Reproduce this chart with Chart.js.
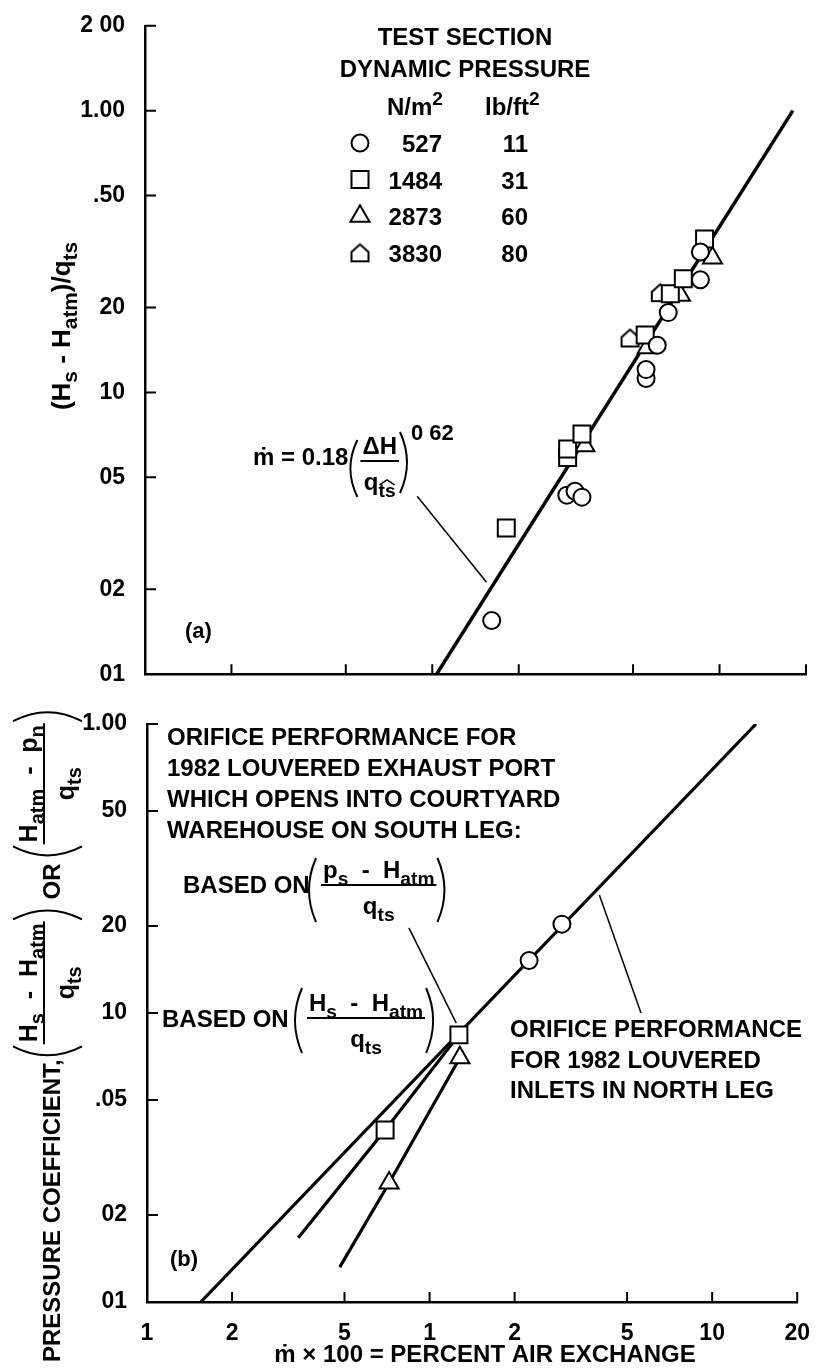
<!DOCTYPE html>
<html>
<head>
<meta charset="utf-8">
<script src="https://cdn.jsdelivr.net/npm/chart.js@4.4.0/dist/chart.umd.min.js"></script>
<style>
  html, body { margin: 0; padding: 0; background: #fff; }
  #wrap { position: relative; width: 820px; height: 1368px; overflow: hidden; }
  .panel { position: absolute; left: 0; width: 820px; }
  #panelA { top: 0; height: 700px; }
  #panelB { top: 640px; height: 728px; }
</style>
</head>
<body>
<div id="wrap">
  <div class="panel" id="panelA"><canvas id="chartA"></canvas></div>
  <div class="panel" id="panelB"><canvas id="chartB"></canvas></div>
</div>
<script>
// shared x axis: m x 100 = percent air exchange
const xTickValues = [0.1, 0.2, 0.5, 1, 2, 5, 10, 20];
const xTickLabels = ['1', '2', '5', '1', '2', '5', '10', '20'];

// panel (a): (Hs - Hatm)/qts against m x 100
const yTickValuesA = [0.01, 0.02, 0.05, 0.1, 0.2, 0.5, 1, 2];
const yTickLabelsA = ['01', '02', '05', '10', '20', '.50', '1.00', '2 00'];
const q527 = [[1.61, 0.0155], [2.94, 0.0432], [3.14, 0.0446], [3.32, 0.0425], [5.55, 0.112], [5.55, 0.1205],
  [6.07, 0.147], [6.63, 0.192], [8.58, 0.251], [8.58, 0.315]];
const q1484 = [[1.81, 0.033], [2.96, 0.0587], [2.96, 0.063], [3.32, 0.0712], [5.51, 0.16], [6.74, 0.224],
  [7.48, 0.253], [8.87, 0.35]];
const q2873 = [[3.4, 0.0647], [5.6, 0.144], [7.31, 0.221], [9.45, 0.30]];
const q3830 = [[4.88, 0.156], [6.22, 0.226]];
const fitLineA = [[1.035, 0.01], [18, 1.0]];
const leaderA = [[0.886, 0.0428], [1.545, 0.0212]];
const legendRows = [['527', '11'], ['1484', '31'], ['2873', '60'], ['3830', '80']];

// panel (b): pressure coefficient against m x 100
const yTickValuesB = [0.01, 0.02, 0.05, 0.1, 0.2, 0.5, 1];
const yTickLabelsB = ['01', '02', '.05', '10', '20', '50', '1.00'];
const northLeg = [[0.155, 0.01], [14.3, 1.0]];
const northLegPts = [[2.25, 0.152], [2.94, 0.203]];
const southPs = [[0.343, 0.0167], [0.696, 0.0394], [1.27, 0.084]];
const southHs = [[0.481, 0.0132], [0.719, 0.0258], [1.28, 0.070]];
const leadersB = [[[0.845, 0.197], [1.243, 0.0923]], [[3.99, 0.256], [5.6, 0.1]]];

const exhaustNote = ['ORIFICE PERFORMANCE FOR', '1982 LOUVERED EXHAUST PORT', 'WHICH OPENS INTO COURTYARD', 'WAREHOUSE ON SOUTH LEG:'];
const northNote = ['ORIFICE PERFORMANCE', 'FOR 1982 LOUVERED', 'INLETS IN NORTH LEG'];

const PANEL_B_TOP = 640;
const FAMILY = '"Liberation Sans", Arial, Helvetica, sans-serif';
const SUB = 0.8;
const TICK_FONT = { family: FAMILY, size: 23, weight: 'bold' };

const font = (size, weight = 'bold') => `${weight} ${size}px ${FAMILY}`;
const toXY = arr => arr.map(([x, y]) => ({ x, y }));

// house-shaped marker for the 3830 N/m2 series
function houseIcon(size) {
  const c = document.createElement('canvas');
  c.width = size + 4; c.height = size + 4;
  const g = c.getContext('2d');
  const l = 2, r = size + 2, t = 2, b = size + 2, m = t + size * 0.45;
  g.beginPath();
  g.moveTo(l, b); g.lineTo(l, m); g.lineTo((l + r) / 2, t); g.lineTo(r, m); g.lineTo(r, b);
  g.closePath();
  g.fillStyle = '#fff'; g.fill();
  g.lineWidth = 2; g.strokeStyle = '#000'; g.stroke();
  return c;
}
const HOUSE = houseIcon(17);

// text with sub/superscripts: parts = [[text, kind]], kind 0 normal, -1 sub, 1 sup
function richWidth(ctx, parts, size) {
  let w = 0;
  parts.forEach(([t, k]) => { ctx.font = font(k ? size * SUB : size); w += ctx.measureText(t).width; });
  return w;
}
function drawRich(ctx, parts, x, y, size, align = 'left') {
  let cx = align === 'center' ? x - richWidth(ctx, parts, size) / 2 : x;
  ctx.textAlign = 'left'; ctx.textBaseline = 'alphabetic';
  parts.forEach(([t, k]) => {
    ctx.font = font(k ? size * SUB : size);
    const dy = k === -1 ? size * 0.28 : k === 1 ? -size * 0.42 : 0;
    ctx.fillText(t, cx, y + dy);
    cx += ctx.measureText(t).width;
  });
  return cx;
}
function drawFraction(ctx, num, den, x, lineY, size) {
  const wn = richWidth(ctx, num, size), wd = richWidth(ctx, den, size);
  const w = Math.max(wn, wd) + 4;
  drawRich(ctx, num, x + w / 2, lineY - size * 0.3, size, 'center');
  drawRich(ctx, den, x + w / 2, lineY + size * 1.2, size, 'center');
  ctx.fillRect(x, lineY - 1, w, 2);
  return { end: x + w, denX: x + (w - wd) / 2, denY: lineY + size * 1.2 };
}
function drawParen(ctx, x, y0, y1, open, bow = 7) {
  const mid = (y0 + y1) / 2;
  ctx.beginPath();
  if (open) { ctx.moveTo(x + bow, y0); ctx.quadraticCurveTo(x - bow, mid, x + bow, y1); }
  else { ctx.moveTo(x, y0); ctx.quadraticCurveTo(x + 2 * bow, mid, x, y1); }
  ctx.lineWidth = 2; ctx.stroke();
}
function segment(ctx, p0, p1, w) {
  ctx.beginPath(); ctx.moveTo(p0[0], p0[1]); ctx.lineTo(p1[0], p1[1]);
  ctx.lineWidth = w; ctx.stroke();
}
function drawMarker(ctx, kind, x, y) {
  ctx.save();
  if (kind === 'house') { ctx.drawImage(HOUSE, x - HOUSE.width / 2, y - HOUSE.height / 2); ctx.restore(); return; }
  ctx.lineWidth = 2; ctx.strokeStyle = '#000'; ctx.fillStyle = '#fff';
  ctx.beginPath();
  if (kind === 'circle') ctx.arc(x, y, 8.5, 0, Math.PI * 2);
  else if (kind === 'rect') ctx.rect(x - 8.5, y - 8.5, 17, 17);
  else { const r = 11; ctx.moveTo(x, y - r); ctx.lineTo(x + r * 0.866, y + r / 2); ctx.lineTo(x - r * 0.866, y + r / 2); ctx.closePath(); }
  ctx.fill(); ctx.stroke();
  ctx.restore();
}

const inwardTicks = {
  id: 'inwardTicks',
  afterDraw(chart, args, opts) {
    const { ctx, chartArea: a, scales: { x, y } } = chart;
    ctx.save();
    ctx.strokeStyle = '#000'; ctx.lineWidth = 2;
    ctx.beginPath();
    xTickValues.slice(1).forEach(v => { const px = x.getPixelForValue(v); ctx.moveTo(px, a.bottom); ctx.lineTo(px, a.bottom - 10); });
    opts.yValues.slice(1).forEach(v => { const py = y.getPixelForValue(v); ctx.moveTo(a.left, py); ctx.lineTo(a.left + 11, py); });
    ctx.stroke();
    ctx.restore();
  }
};

const annotA = {
  id: 'annotA',
  afterDraw(chart) {
    const { ctx, scales: { x, y } } = chart;
    const px = ([vx, vy]) => [x.getPixelForValue(vx), y.getPixelForValue(vy)];
    ctx.save();
    ctx.fillStyle = '#000'; ctx.strokeStyle = '#000';
    segment(ctx, px(leaderA[0]), px(leaderA[1]), 1.5);

    // legend
    ctx.font = font(24); ctx.textAlign = 'center'; ctx.textBaseline = 'alphabetic';
    ctx.fillText('TEST SECTION', 465, 45);
    ctx.fillText('DYNAMIC PRESSURE', 465, 77);
    drawRich(ctx, [['N/m', 0], ['2', 1]], 387, 115, 24);
    drawRich(ctx, [['lb/ft', 0], ['2', 1]], 485, 115, 24);
    const kinds = ['circle', 'rect', 'triangle', 'house'];
    legendRows.forEach(([si, eng], i) => {
      const cy = 143 + i * 36.6;
      drawMarker(ctx, kinds[i], 360, cy);
      ctx.font = font(24); ctx.textAlign = 'right'; ctx.fillStyle = '#000';
      ctx.fillText(si, 442, cy + 9);
      ctx.fillText(eng, 528, cy + 9);
    });

    // m = 0.18 (dH/qts)^0.62
    ctx.font = font(24); ctx.textAlign = 'left';
    ctx.fillText('ṁ = 0.18', 253, 465);
    let cx = 253 + ctx.measureText('ṁ = 0.18').width + 2;
    drawParen(ctx, cx, 440, 497, true);
    const fr = drawFraction(ctx, [['ΔH', 0]], [['q', 0], ['ts', -1]], cx + 10, 461, 24);
    ctx.font = font(24); const qw = ctx.measureText('q').width;
    ctx.font = font(24 * SUB); const tw = ctx.measureText('ts').width;
    const hx = fr.denX + qw, hy = fr.denY - 9;
    ctx.beginPath(); ctx.moveTo(hx + 1, hy + 4); ctx.lineTo(hx + tw / 2, hy - 1); ctx.lineTo(hx + tw - 1, hy + 4);
    ctx.lineWidth = 1.5; ctx.stroke();
    drawParen(ctx, fr.end + 1, 432, 493, false);
    ctx.font = font(22); ctx.fillText('0 62', fr.end + 12, 440);

    ctx.font = font(22); ctx.fillText('(a)', 185, 638);

    // y axis title
    ctx.save();
    ctx.translate(70, 326); ctx.rotate(-Math.PI / 2);
    drawRich(ctx, [['(H', 0], ['s', -1], [' - H', 0], ['atm', -1], [')/q', 0], ['ts', -1]], 0, 0, 26, 'center');
    ctx.restore();
    ctx.restore();
  }
};

const annotB = {
  id: 'annotB',
  afterDraw(chart) {
    const { ctx, scales: { x, y } } = chart;
    const px = ([vx, vy]) => [x.getPixelForValue(vx), y.getPixelForValue(vy)];
    ctx.save();
    ctx.fillStyle = '#000'; ctx.strokeStyle = '#000';
    leadersB.forEach(([p0, p1]) => segment(ctx, px(p0), px(p1), 1.5));

    ctx.translate(0, -PANEL_B_TOP); // page coordinates for the notes
    ctx.font = font(24); ctx.textAlign = 'left'; ctx.textBaseline = 'alphabetic';
    exhaustNote.forEach((t, i) => ctx.fillText(t, 167, 745 + i * 31));
    northNote.forEach((t, i) => ctx.fillText(t, 510, 1037 + i * 30.5));

    const q = [['q', 0], ['ts', -1]];
    ctx.font = font(24); ctx.fillText('BASED ON', 183, 893);
    drawParen(ctx, 309, 858, 922, true);
    let fr = drawFraction(ctx, [['p', 0], ['s', -1], ['  -  H', 0], ['atm', -1]], q, 321, 885, 24);
    drawParen(ctx, fr.end + 1, 858, 922, false);

    ctx.font = font(24); ctx.fillText('BASED ON', 162, 1027);
    drawParen(ctx, 295, 988, 1053, true);
    fr = drawFraction(ctx, [['H', 0], ['s', -1], ['  -  H', 0], ['atm', -1]], q, 307, 1018, 24);
    drawParen(ctx, fr.end + 1, 988, 1053, false);

    ctx.font = font(22); ctx.fillText('(b)', 170, 1266);

    ctx.font = font(24); ctx.textAlign = 'center';
    ctx.fillText('ṁ × 100 = PERCENT AIR EXCHANGE', 485, 1362);

    // rotated y axis title
    ctx.save();
    ctx.translate(60, 1362); ctx.rotate(-Math.PI / 2);
    ctx.font = font(24); ctx.textAlign = 'left';
    ctx.fillText('PRESSURE COEFFICIENT,', 0, 0);
    let u = ctx.measureText('PRESSURE COEFFICIENT,').width + 4;
    drawParen(ctx, u, -47, 22, true, 9);
    fr = drawFraction(ctx, [['H', 0], ['s', -1], ['  -  H', 0], ['atm', -1]], q, u + 11, -16, 25);
    drawParen(ctx, fr.end + 2, -47, 22, false, 9);
    u = fr.end + 22;
    ctx.font = font(24); ctx.textAlign = 'left'; ctx.fillText('OR', u, 0);
    u += ctx.measureText('OR').width + 8;
    drawParen(ctx, u, -47, 22, true, 9);
    fr = drawFraction(ctx, [['H', 0], ['atm', -1], ['  -  p', 0], ['n', -1]], q, u + 11, -16, 25);
    drawParen(ctx, fr.end + 2, -47, 22, false, 9);
    ctx.restore();
    ctx.restore();
  }
};

function logAxis(min, max, values, labels, size, showLabels, pad) {
  return {
    type: 'logarithmic', min, max,
    grid: { display: false },
    border: { display: true, color: '#000', width: 2.5 },
    ticks: { display: showLabels, color: '#000', font: TICK_FONT, padding: pad, autoSkip: false, maxRotation: 0,
      callback: (v, i) => labels[i] },
    afterBuildTicks: s => { s.ticks = values.map(value => ({ value })); },
    afterFit: s => { if (s.isHorizontal()) s.height = size; else s.width = size; }
  };
}

const markerBase = { backgroundColor: '#fff', borderColor: '#000', borderWidth: 2 };
const lineBase = { showLine: true, pointRadius: 0, borderColor: '#000', fill: false };

Chart.defaults.font.family = FAMILY;
Chart.defaults.color = '#000';

new Chart(document.getElementById('chartA'), {
  type: 'scatter',
  data: {
    datasets: [
      { ...markerBase, label: '527', data: toXY(q527), pointStyle: 'circle', pointRadius: 8.5, order: 0 },
      { ...markerBase, label: '1484', data: toXY(q1484), pointStyle: 'rect', pointRadius: 12, order: 1 },
      { ...markerBase, label: '2873', data: toXY(q2873), pointStyle: 'triangle', pointRadius: 11, order: 2 },
      { ...markerBase, label: '3830', data: toXY(q3830), pointStyle: HOUSE, pointRadius: 9, order: 3 },
      { ...lineBase, label: 'fit', data: toXY(fitLineA), borderWidth: 3.5, order: 4 }
    ]
  },
  options: {
    animation: false,
    responsive: true,
    maintainAspectRatio: false,
    layout: { padding: { top: 22, right: 13, left: 0, bottom: 0 } },
    plugins: { legend: { display: false }, tooltip: { enabled: false }, inwardTicks: { yValues: yTickValuesA } },
    scales: {
      x: logAxis(0.1, 20, xTickValues, xTickLabels, 21, false, 0),
      y: logAxis(0.01, 2, yTickValuesA, yTickLabelsA, 145, true, 12)
    }
  },
  plugins: [inwardTicks, annotA]
});

new Chart(document.getElementById('chartB'), {
  type: 'scatter',
  data: {
    datasets: [
      { ...markerBase, label: 'north leg', data: toXY(northLegPts), pointStyle: 'circle', pointRadius: 8.5, order: 0 },
      { ...markerBase, label: 'ps based', data: toXY(southPs.slice(1)), pointStyle: 'rect', pointRadius: 12, order: 0 },
      { ...markerBase, label: 'Hs based', data: toXY(southHs.slice(1)), pointStyle: 'triangle', pointRadius: 11, order: 1 },
      { ...lineBase, label: 'north line', data: toXY(northLeg), borderWidth: 3.2, order: 2 },
      { ...lineBase, label: 'ps line', data: toXY(southPs), borderWidth: 3.2, order: 2 },
      { ...lineBase, label: 'Hs line', data: toXY(southHs), borderWidth: 3.2, order: 2 }
    ]
  },
  options: {
    animation: false,
    responsive: true,
    maintainAspectRatio: false,
    layout: { padding: { top: 84, right: 13, left: 0, bottom: 0 } },
    plugins: { legend: { display: false }, tooltip: { enabled: false }, inwardTicks: { yValues: yTickValuesB } },
    scales: {
      x: logAxis(0.1, 20, xTickValues, xTickLabels, 66, true, 10),
      y: logAxis(0.01, 1, yTickValuesB, yTickLabelsB, 147, true, 12)
    }
  },
  plugins: [inwardTicks, annotB]
});
</script>
</body>
</html>
